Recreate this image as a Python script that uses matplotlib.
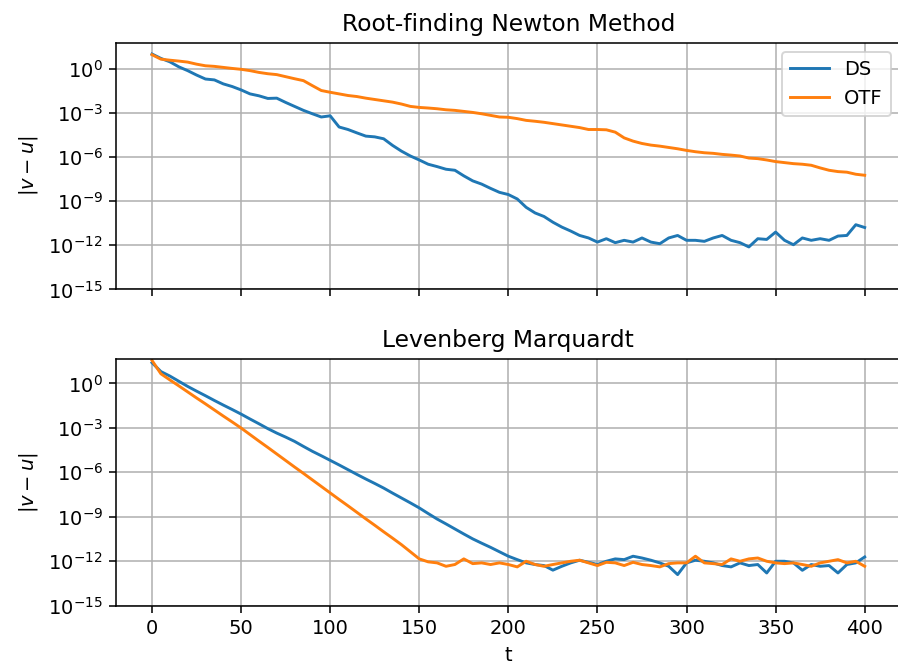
import numpy as np
import matplotlib
matplotlib.use("Agg")
import matplotlib.pyplot as plt

# time steps (every 5)
t = np.arange(0, 401, 5)

# log10 |v-u|
newton_ds = [1.0, 0.70, 0.47, 0.13, -0.13, -0.43, -0.70, -0.76, -1.03, -1.21,
             -1.44, -1.71, -1.84, -2.02, -2.00, -2.29, -2.56, -2.83, -3.06, -3.28,
             -3.20, -3.96, -4.13, -4.36, -4.58, -4.63, -4.76, -5.21, -5.60, -5.93,
             -6.20, -6.49, -6.65, -6.83, -6.90, -7.28, -7.62, -7.84, -8.13, -8.40,
             -8.55, -8.85, -9.42, -9.80, -10.04, -10.43, -10.76, -11.03, -11.33, -11.50,
             -11.78, -11.55, -11.82, -11.66, -11.78, -11.50, -11.78, -11.89, -11.50, -11.33,
             -11.66, -11.66, -11.73, -11.50, -11.33, -11.66, -11.82, -12.11, -11.55, -11.60,
             -11.10, -11.66, -11.96, -11.50, -11.66, -11.55, -11.66, -11.37, -11.33, -10.60,
             -10.79]
newton_otf = [0.95, 0.65, 0.58, 0.52, 0.45, 0.31, 0.20, 0.16, 0.09, 0.02,
              -0.04, -0.13, -0.25, -0.34, -0.40, -0.54, -0.68, -0.81, -1.15, -1.48,
              -1.60, -1.71, -1.82, -1.89, -2.00, -2.09, -2.18, -2.27, -2.40, -2.56,
              -2.63, -2.67, -2.72, -2.79, -2.83, -2.90, -2.97, -3.06, -3.17, -3.28,
              -3.30, -3.39, -3.51, -3.57, -3.64, -3.73, -3.82, -3.91, -4.00, -4.13,
              -4.13, -4.15, -4.31, -4.70, -4.92, -5.08, -5.19, -5.26, -5.35, -5.44,
              -5.55, -5.64, -5.71, -5.75, -5.82, -5.87, -5.93, -6.07, -6.11, -6.20,
              -6.31, -6.38, -6.45, -6.49, -6.56, -6.74, -6.90, -6.99, -7.03, -7.17,
              -7.24]
lm_ds = [1.40, 0.80, 0.50, 0.15, -0.20, -0.52, -0.83, -1.15, -1.46, -1.76,
         -2.07, -2.40, -2.72, -3.05, -3.35, -3.62, -3.91, -4.25, -4.58, -4.88,
         -5.19, -5.50, -5.82, -6.14, -6.45, -6.75, -7.06, -7.40, -7.73, -8.06,
         -8.40, -8.78, -9.15, -9.48, -9.82, -10.16, -10.49, -10.78, -11.06, -11.36,
         -11.66, -11.89, -12.11, -12.22, -12.29, -12.60, -12.34, -12.11, -11.93, -12.07,
         -12.22, -12.00, -11.84, -11.89, -11.66, -11.78, -11.93, -12.11, -12.34, -12.90,
         -12.11, -11.93, -12.00, -12.11, -12.29, -12.38, -12.11, -12.29, -12.22, -12.79,
         -12.00, -12.00, -12.11, -12.61, -12.22, -12.34, -12.29, -12.79, -12.22, -12.11,
         -11.71]
lm_otf = [1.55, 0.65, 0.24, -0.16, -0.57, -0.98, -1.38, -1.79, -2.20, -2.60,
          -3.01, -3.45, -3.89, -4.32, -4.76, -5.20, -5.64, -6.07, -6.51, -6.95,
          -7.39, -7.83, -8.26, -8.70, -9.14, -9.57, -10.01, -10.44, -10.88, -11.36,
          -11.84, -12.04, -12.11, -12.34, -12.22, -11.84, -12.16, -12.11, -12.22, -12.11,
          -12.22, -12.38, -12.00, -12.22, -12.34, -12.22, -12.11, -12.00, -11.93, -12.11,
          -12.29, -12.07, -12.11, -12.29, -12.07, -12.22, -12.29, -12.38, -12.16, -12.11,
          -12.11, -11.66, -12.11, -12.16, -12.22, -11.84, -12.00, -11.84, -11.78, -12.00,
          -12.11, -12.16, -12.11, -12.22, -12.34, -12.11, -12.00, -11.89, -12.11, -12.00,
          -12.34]

fig = plt.figure(figsize=(898 / 140, 671 / 140), dpi=140)
ax1 = fig.add_axes([0.1296, 0.5686, 0.873, 0.3678])
ax2 = fig.add_axes([0.1296, 0.0973, 0.873, 0.3677], sharex=ax1)

ax1.semilogy(t, 10.0 ** np.array(newton_ds), label="DS")
ax1.semilogy(t, 10.0 ** np.array(newton_otf), label="OTF")
ax1.set_title("Root-finding Newton Method")
ax1.set_ylabel("$|v-u|$")
ax1.set_ylim(1e-15, 10 ** 1.77)
ax1.legend(loc="upper right")
ax1.grid(True)
ax1.tick_params(labelbottom=False)

ax2.semilogy(t, 10.0 ** np.array(lm_ds), label="DS")
ax2.semilogy(t, 10.0 ** np.array(lm_otf), label="OTF")
ax2.set_title("Levenberg Marquardt")
ax2.set_ylabel("$|v-u|$")
ax2.set_xlabel("t")
ax2.set_ylim(1e-15, 10 ** 1.65)
ax2.grid(True)
ax2.set_xlim(-20, 420)

for ax in (ax1, ax2):
    ax.set_yticks([1e0, 1e-3, 1e-6, 1e-9, 1e-12, 1e-15])

fig.savefig("out.png", dpi=140)
